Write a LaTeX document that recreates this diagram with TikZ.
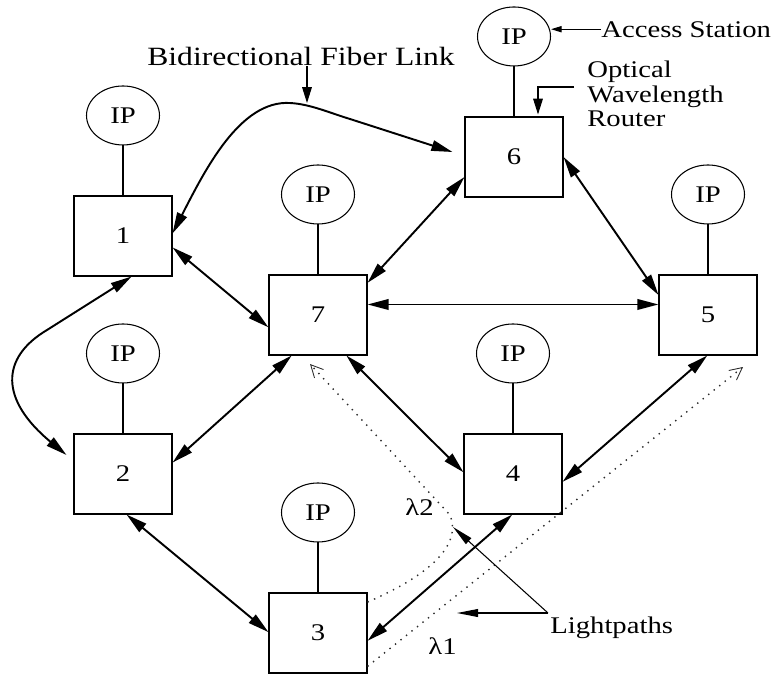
\documentclass[tikz,border=0pt]{standalone}
\usepackage{fontspec}
\setmainfont{Liberation Serif}[FakeStretch=1.2]
\usetikzlibrary{arrows.meta,positioning,shapes.geometric,calc}

\tikzset{
  router/.style={draw, line width=0.6pt, minimum width=1.96cm, minimum height=1.6cm, inner sep=0pt},
  station/.style={draw, ellipse, line width=0.6pt, minimum width=1.46cm, minimum height=1.18cm, inner sep=0pt},
  fiber/.style={line width=1.1pt, {Triangle[length=12pt,width=6pt]}-{Triangle[length=12pt,width=6pt]}},
  lightpath/.style={line width=0.8pt, dash pattern=on 0.8pt off 3.2pt, gray!35!black, -{Straight Barb[length=7pt,width=7pt,line width=0.5pt]}},
  pointer/.style={line width=0.6pt, -{Triangle[length=9pt,width=5.5pt]}},
  note/.style={inner sep=0pt},
}

\begin{document}
\begin{tikzpicture}[x=0.02cm, y=-0.02cm, font=\fontsize{13.6}{13.9}\selectfont]
\useasboundingbox (0,0) rectangle (777,676);

% Routers with their access stations
\foreach \n/\x/\y in {1/123/236, 2/123/474, 3/318/633, 4/513/474, 5/708/315, 6/514/157, 7/318/315} {
  \node[router] (b\n) at (\x,\y) {\n};
  \node[station, above=1cm of b\n] (ip\n) {IP};
  \draw[line width=0.6pt] (ip\n.south) -- (b\n.north);
}

% Fiber links
\draw[fiber] (b1.-13) -- (b7.194);
\draw[fiber] (b1.3) .. controls (205,170) and (240,100) .. (290,103)
  .. controls (310,104) and (330,113) .. (350,119) -- ([shift={(-12,-5)}]b6.west);
\draw[fiber] (b1.-78) -- (47,330) .. controls (0,358) and (0,400) .. ([xshift=-0.14cm]b2.159);
\draw[fiber] (b7.33) -- (b6.202);
\draw[fiber] (b6.east) -- (b5.158);
\draw[fiber] (b7.12) -- (b5.168);
\draw[fiber] (b2.13) -- (b7.237);
\draw[fiber] (b7.-55) -- (b4.178);
\draw[fiber] (b4.-9) -- (b5.-91);
\draw[fiber] (b3.-9) -- (b4.-91);
\draw[fiber] (b2.-85) -- (b3.179);

% Lightpaths
\draw[lightpath] (b3.-34) -- ([shift={(35,52)}]b5.center);
\draw[lightpath] (b3.32) .. controls (430,575) and (462,545) .. (450,515) -- ([shift={(-8,49)}]b7.center);

% Notes
\node[note, anchor=base west] (acc) at (601,37) {Access Station};
\node[note, anchor=north west, align=left] (owr) at (587,61) {Optical\\Wavelength\\Router};
\node[note, anchor=base, font=\fontsize{15}{16}\selectfont] (bfl) at (301,65) {Bidirectional Fiber Link};
\node[note, anchor=base west] (lp) at (550,633) {Lightpaths};
\node[note, anchor=base west] (lam2) at (405,515) {λ2};
\node[note, anchor=base west] (lam1) at (428,654) {λ1};

\coordinate (lp1) at (457,613);
\coordinate (lp2) at (453,527);

\draw[pointer, -{Triangle[length=6pt,width=3.5pt]}] (acc.west) -- (acc.west -| ip6.east);
\draw[pointer] ($(owr.north west)+(-13,26)$) -| ($(b6.north)+(24,-2)$);
\draw[pointer] ($(bfl.base)+(6,1)$) -- ++(0,37);
\draw[pointer, -{Triangle[length=12pt,width=4.5pt]}] ($(lp.base west)+(-2,-20)$) -- (lp1);
\draw[pointer, -{Triangle[length=12pt,width=4.5pt]}] ($(lp.base west)+(-2,-20)$) -- (lp2);

\end{tikzpicture}
\end{document}
